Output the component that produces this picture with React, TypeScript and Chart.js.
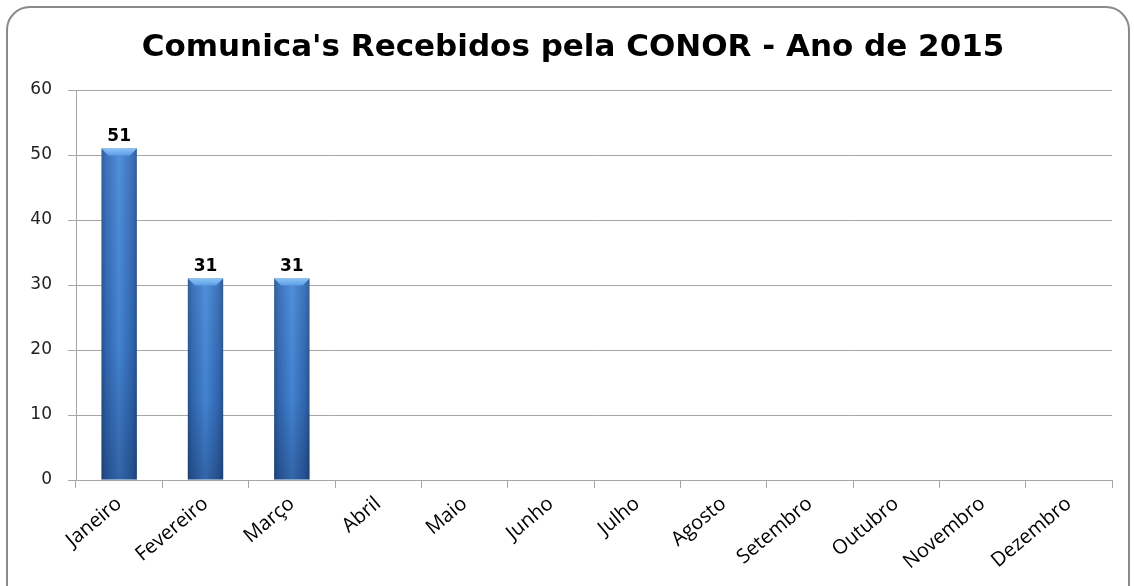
import React, { useEffect, useRef } from "react";
import { Chart, registerables } from "chart.js";

Chart.register(...registerables);

const titleText = "Comunica's Recebidos pela CONOR - Ano de 2015";
const months = [
  "Janeiro", "Fevereiro", "Março", "Abril", "Maio", "Junho",
  "Julho", "Agosto", "Setembro", "Outubro", "Novembro", "Dezembro",
];
const received: (number | null)[] = [51, 31, 31, null, null, null, null, null, null, null, null, null];
const yTicks = [0, 10, 20, 30, 40, 50, 60];

const titleDraw = {
  id: "titleDraw",
  afterDraw(chart: any) {
    const ctx = chart.ctx;
    ctx.save();
    ctx.fillStyle = "#000";
    ctx.font = "bold 31px 'DejaVu Sans'";
    ctx.textAlign = "center";
    ctx.textBaseline = "alphabetic";
    ctx.fillText(titleText, 573, 56);
    ctx.restore();
  },
};

const barLook = {
  id: "barLook",
  afterDatasetsDraw(chart: any) {
    const ctx = chart.ctx;
    const meta = chart.getDatasetMeta(0);
    ctx.save();
    meta.data.forEach((el: any, i: number) => {
      const v = received[i];
      if (v == null) return;
      const l = el.x - el.width / 2;
      const r = el.x + el.width / 2;
      const t = el.y;
      const b = el.base;
      const vg = ctx.createLinearGradient(0, t, 0, b);
      vg.addColorStop(0, "rgba(255,255,255,0.06)");
      vg.addColorStop(0.6, "rgba(0,10,40,0.05)");
      vg.addColorStop(1, "rgba(0,10,40,0.28)");
      ctx.fillStyle = vg;
      ctx.fillRect(l, t, r - l, b - t);
      const bev = 7;
      const tg = ctx.createLinearGradient(0, t, 0, t + bev);
      tg.addColorStop(0, "#8cc4f6");
      tg.addColorStop(1, "#5b9de6");
      ctx.fillStyle = tg;
      ctx.beginPath();
      ctx.moveTo(l, t);
      ctx.lineTo(r, t);
      ctx.lineTo(r - bev, t + bev);
      ctx.lineTo(l + bev, t + bev);
      ctx.closePath();
      ctx.fill();
      ctx.fillStyle = "#000";
      ctx.font = "bold 17px 'DejaVu Sans'";
      ctx.textAlign = "center";
      ctx.textBaseline = "bottom";
      ctx.fillText(String(v), el.x, t - 3);
    });
    ctx.restore();
  },
};

export default function App() {
  const ref = useRef<HTMLCanvasElement>(null);
  useEffect(() => {
    document.body.style.margin = "0";
    const canvas = ref.current!;
    const chart = new Chart(canvas, {
      type: "bar",
      data: {
        labels: months,
        datasets: [
          {
            data: received,
            barPercentage: 0.82,
            categoryPercentage: 0.5,
            backgroundColor: (c: any) => {
              const ch = c.chart;
              const xs = ch.scales && ch.scales.x;
              if (!ch.chartArea || !xs || c.dataIndex == null) return "#3b7fd2";
              const cx = xs.getPixelForValue(c.dataIndex);
              const w = (xs.width / months.length) * 0.41;
              const g = ch.ctx.createLinearGradient(cx - w / 2, 0, cx + w / 2, 0);
              g.addColorStop(0, "#27548f");
              g.addColorStop(0.12, "#3268b2");
              g.addColorStop(0.5, "#4689d9");
              g.addColorStop(0.88, "#3268b2");
              g.addColorStop(1, "#27548f");
              return g;
            },
            borderWidth: 0,
          },
        ],
      },
      options: {
        animation: false,
        responsive: false,
        maintainAspectRatio: false,
        layout: { padding: { left: 0, right: 22, top: 90, bottom: 0 } },
        plugins: {
          legend: { display: false },
          tooltip: { enabled: false },
          title: { display: false },
        },
        scales: {
          x: {
            grid: {
              display: true,
              drawOnChartArea: false,
              drawTicks: true,
              tickLength: 8,
              color: "#a6a6a6",
              offset: true,
            },
            border: { display: true, color: "#a6a6a6", width: 1 },
            ticks: {
              minRotation: 40,
              maxRotation: 40,
              color: "#000",
              font: { family: "'Open Sans'", size: 20 },
              padding: 4,
              autoSkip: false,
            },
            afterFit: (s: any) => {
              s.height = 106;
            },
          },
          y: {
            min: 0,
            max: 60,
            afterBuildTicks: (s: any) => {
              s.ticks = yTicks.map((v) => ({ value: v }));
            },
            grid: {
              color: "#a6a6a6",
              tickLength: 8,
              lineWidth: 1,
            },
            border: { display: true, color: "#a6a6a6", width: 1 },
            ticks: {
              color: "#222",
              font: { family: "'DejaVu Sans'", size: 17 },
              padding: 16,
            },
            afterFit: (s: any) => {
              s.width = 76;
            },
          },
        },
      },
      plugins: [barLook, titleDraw],
    });
    return () => chart.destroy();
  }, []);

  return (
    <div style={{ position: "fixed", left: 0, top: 0, width: 1134, height: 586, overflow: "hidden", background: "#fff" }}>
      <div
        style={{
          position: "absolute",
          left: 6,
          top: 6,
          width: 1124,
          height: 620,
          border: "2px solid #8a8a8a",
          borderRadius: 24,
          boxSizing: "border-box",
        }}
      />
      <canvas ref={ref} width={1134} height={586} style={{ position: "absolute", left: 0, top: 0, width: 1134, height: 586 }} />
    </div>
  );
}
